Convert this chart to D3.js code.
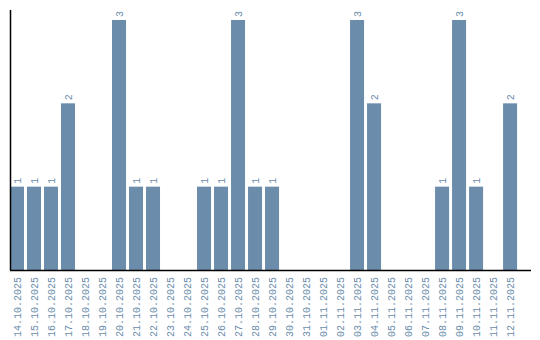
<!DOCTYPE html>
<html>
<head>
<meta charset="utf-8">
<script src="https://cdn.jsdelivr.net/npm/d3@7"></script>
<style>
	body { margin: 0; background: #fff; }
	text { font-family: "Liberation Mono", monospace; }
</style>
</head>
<body>
<svg id="chart" width="540" height="340"></svg>
<script>
const days = ["14.10.2025","15.10.2025","16.10.2025","17.10.2025","18.10.2025","19.10.2025",
	"20.10.2025","21.10.2025","22.10.2025","23.10.2025","24.10.2025","25.10.2025","26.10.2025",
	"27.10.2025","28.10.2025","29.10.2025","30.10.2025","31.10.2025","01.11.2025","02.11.2025",
	"03.11.2025","04.11.2025","05.11.2025","06.11.2025","07.11.2025","08.11.2025","09.11.2025",
	"10.11.2025","11.11.2025","12.11.2025"];
const counts = [1,1,1,2,0,0,3,1,1,0,0,1,1,3,1,1,0,0,0,0,3,2,0,0,0,1,3,1,0,2];

const color = "#6b8cab";
const svg = d3.select('#chart');
const mLeft = 10, mRight = 530, mTop = 10, mBottom = 270;

let data = days.map((d, i) => ({ day: d, value: counts[i] }));

let x = d3.scaleBand()
	.domain(days)
	.range([mLeft, mRight])
	.paddingInner(0.176)
	.paddingOuter(0.38)
	.align(0);

let y = d3.scaleLinear()
	.domain([0, 3])
	.range([mBottom, 20]);

// bars
svg.selectAll('.bar')
	.data(data.filter(d => d.value > 0))
	.enter()
	.append('rect')
	.attr('class', 'bar')
	.attr('x', d => x(d.day))
	.attr('y', d => y(d.value))
	.attr('width', x.bandwidth())
	.attr('height', d => mBottom - y(d.value))
	.style('fill', color);

// value labels
svg.selectAll('.val')
	.data(data.filter(d => d.value > 0))
	.enter()
	.append('text')
	.attr('transform', d => `translate(${x(d.day) + x.bandwidth() / 2 + 3.5},${y(d.value) - 3}) rotate(-90)`)
	.attr('text-anchor', 'start')
	.style('font-size', '10px')
	.style('fill', color)
	.text(d => d.value);

// x axis
let xAxis = d3.axisBottom(x).tickSize(0).tickPadding(0);
let gx = svg.append('g')
	.attr('transform', `translate(0,${mBottom})`)
	.call(xAxis);
gx.select('.domain').remove();
gx.selectAll('text')
	.attr('transform', 'rotate(-90)')
	.attr('text-anchor', 'end')
	.attr('x', -7)
	.attr('y', 0)
	.attr('dy', '0.35em')
	.style('font-size', '10px')
	.style('font-family', '"Liberation Mono", monospace')
	.style('fill', color);

// axis lines
svg.append('line')
	.attr('x1', mLeft).attr('x2', mRight + 1)
	.attr('y1', mBottom + 0.5).attr('y2', mBottom + 0.5)
	.style('stroke', '#000').style('stroke-width', 1.5);
svg.append('line')
	.attr('x1', mLeft + 0.5).attr('x2', mLeft + 0.5)
	.attr('y1', mTop).attr('y2', mBottom)
	.style('stroke', '#000').style('stroke-width', 1.5);
</script>
</body>
</html>
